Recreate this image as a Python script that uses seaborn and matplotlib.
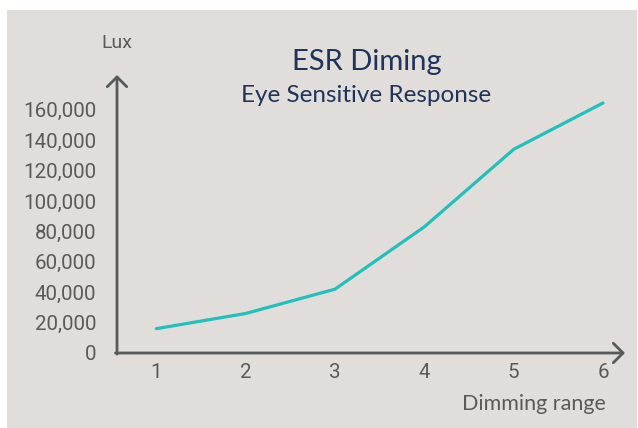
import matplotlib
matplotlib.use("Agg")
import matplotlib.pyplot as plt
from matplotlib.patches import Rectangle
import pandas as pd
import seaborn as sns

# data
dimming = [1, 2, 3, 4, 5, 6]
lux = [16000, 26000, 42000, 83000, 134000, 164500]
yticks = [0, 20000, 40000, 60000, 80000, 100000, 120000, 140000, 160000]

df = pd.DataFrame({"Dimming range": dimming, "Lux": lux})

sns.set_style("white")
plt.rcParams["font.family"] = ["Roboto", "DejaVu Sans"]

bg = "#e1dddb"
axis_col = "#555a5a"
text_col = "#5a5a5a"
navy = "#1e3458"

fig = plt.figure(figsize=(6.38, 4.28), dpi=100, facecolor="white")
fig.patches.append(Rectangle((7 / 638, 0), 630 / 638, 418 / 428,
                             transform=fig.transFigure, facecolor=bg,
                             edgecolor="none", zorder=-10))

ax = fig.add_axes([117 / 638, 75 / 428, 508 / 638, 278 / 428])
ax.set_zorder(1)
ax.set_facecolor("none")

sns.lineplot(data=df, x="Dimming range", y="Lux", ax=ax,
             color="#22bfbc", linewidth=2.3)

ax.set_xlim(0.56, 6.246)
ax.set_ylim(0, 182900)
ax.set_xticks(dimming)
ax.set_yticks(yticks)
ax.set_yticklabels([f"{v:,}" for v in yticks])
ax.tick_params(axis="y", length=0, pad=15, labelsize=14.8, labelcolor=text_col)
ax.tick_params(axis="x", length=0, pad=7, labelsize=14.8, labelcolor=text_col)
ax.set_xlabel("")
ax.set_ylabel("")
for s in ax.spines.values():
    s.set_visible(False)

arrow = dict(arrowstyle="->, head_length=0.5, head_width=0.5",
             lw=2, color=axis_col, mutation_scale=14,
             shrinkA=0, shrinkB=0)
ax.annotate("", xy=(0, 1), xytext=(0, -0.004), xycoords="axes fraction",
            arrowprops=arrow)
ax.annotate("", xy=(1, 0), xytext=(-0.003, 0), xycoords="axes fraction",
            arrowprops=arrow)

fig.text(117 / 638, 1 - 43 / 428, "Lux", ha="center", va="center",
         fontsize=14, color=text_col)
fig.text(606 / 638, 1 - 404 / 428, "Dimming range", ha="right", va="center",
         fontsize=15.5, color=text_col, family=["Lato", "DejaVu Sans"])
fig.text(367 / 638, 1 - 62 / 428, "ESR Diming", ha="center", va="center",
         fontsize=21, color=navy, family=["Lato", "DejaVu Sans"])
fig.text(366 / 638, 1 - 95 / 428, "Eye Sensitive Response", ha="center",
         va="center", fontsize=17.5, color=navy, family=["Lato", "DejaVu Sans"])

fig.savefig("out.png", dpi=100, facecolor="white")
